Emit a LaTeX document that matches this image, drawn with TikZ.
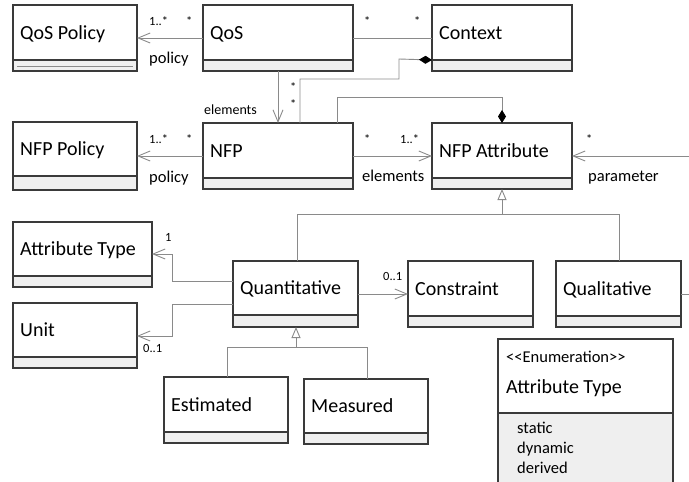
\documentclass[tikz,border=0pt]{standalone}
\usepackage{fontspec}
\setmainfont{Carlito}
\usetikzlibrary{arrows.meta,calc}
\definecolor{boxc}{HTML}{3A3A3A}
\definecolor{linec}{HTML}{8A8A8A}
\definecolor{compc}{HTML}{EFEFEF}
\tikzset{
  boxline/.style={draw=boxc, line width=1.5pt},
  conn/.style={draw=linec, line width=0.9pt},
  assoc/.style={conn, -{Straight Barb[length=12pt,width=10pt,line width=0.9pt]}},
  gen/.style={conn, -{Triangle[open,length=11pt,width=9pt,fill=white,line width=0.9pt]}},
  comp/.style={conn, -{Diamond[length=13pt,width=8pt,fill=black,color=black]}},
  title/.style={font=\fontsize{20}{24}\selectfont, anchor=base west, inner sep=0pt},
  mult/.style={font=\fontsize{12.5}{14}\selectfont, anchor=base west, inner sep=0pt},
  role/.style={font=\fontsize{16.5}{19}\selectfont, anchor=base west, inner sep=0pt},
  enumtxt/.style={font=\fontsize{16.5}{19}\selectfont, anchor=base west, inner sep=0pt},
}
\newcommand\umlclass[7]{%
  \node[draw=none, fill=white, inner sep=0pt, outer sep=0pt,
        minimum width={(#4-#2)*1pt}, minimum height={(#6-#3)*1pt},
        anchor=north west] (#1) at (#2,#3) {};
  \fill[compc] (#2,#5) rectangle (#4,#6);
  \draw[boxline] (#2,#5) -- (#4,#5);
  \draw[boxline] (#2,#3) rectangle (#4,#6);
  \node[title] (#1-name) at ({#2+7}, {(#3+#5)/2+6.5}) {#7};
}
\begin{document}
\begin{tikzpicture}[x=1pt, y=-1pt]
\useasboundingbox (0,0) rectangle (689,482);
\clip (0,0) rectangle (689,482);

% classes
\umlclass{qospol}{13}{5}{137}{60}{71}{QoS Policy}
\draw[linec, line width=0.6pt] (17,66) -- (133,66);
\umlclass{qos}{203}{5}{353}{60}{71}{QoS}
\umlclass{ctx}{432}{5}{572}{60}{71}{Context}
\umlclass{nfppol}{13}{122}{137}{176}{190}{NFP Policy}
\umlclass{nfp}{203}{123}{353}{178}{189}{NFP}
\umlclass{nfpattr}{432}{123}{572}{178}{189}{NFP Attribute}
\umlclass{attrtype}{13}{222}{152}{276}{287}{Attribute Type}
\umlclass{unit}{13}{303}{137}{357}{368}{Unit}
\umlclass{quant}{233}{261}{358}{315}{327}{Quantitative}
\umlclass{constr}{408}{261}{533}{316}{327}{Constraint}
\umlclass{qual}{556}{261}{681}{316}{327}{Qualitative}
\umlclass{est}{164}{377}{288}{432}{443}{Estimated}
\umlclass{meas}{304}{379}{428}{433}{444}{Measured}

% enumeration
\node[draw=none, fill=white, inner sep=0pt, outer sep=0pt,
      minimum width=175pt, minimum height=160pt, anchor=north west] (enum) at (498,339) {};
\fill[compc] (498,413) rectangle (673,500);
\draw[boxline] (498,413) -- (673,413);
\draw[boxline] (498,339) rectangle (673,500);
\node[font=\fontsize{16.5}{19}\selectfont, anchor=base west, inner sep=0pt] (enum-st) at (506,362) {<\kern0pt<Enumeration>\kern0pt>};
\node[title] (enum-name) at (506,393) {Attribute Type};
\node[enumtxt] (lit1) at (517,433) {static};
\node[enumtxt] (lit2) at (517,453) {dynamic};
\node[enumtxt] (lit3) at (517,473) {derived};

% coordinates for free ends
\coordinate (paramend) at (689,156);
\coordinate (qualend) at (689,294);

% QoS -> QoS Policy
\draw[assoc] (qos.west) -- (qospol.east);
\node[mult] at (149,25) {1..*};
\node[mult] at (186,25) {*};
\node[role] at (149,63) {policy};

% QoS -- Context
\draw[conn] (qos.east) -- (ctx.west);
\node[mult] at (364,25) {*};
\node[mult] at (414,25) {*};

% QoS -> NFP
\draw[assoc] ($(qos.south west)+(75,0)$) -- ($(nfp.north west)+(75,0)$);
\node[mult] at (290,91) {*};
\node[mult] at (290,108) {*};
\node[font=\fontsize{14}{16}\selectfont, anchor=base west, inner sep=0pt] at (204,114) {elements};

% NFP composition to Context
\draw[comp] ($(nfp.north west)+(97,0)$) -- ++(0,-44) -- ++(99,0) -- ++(0,-20) -- ($(ctx.north west)+(0,55)$);

% NFP composition to NFP Attribute
\draw[comp] ($(nfp.north west)+(134,0)$) -- ++(0,-26) -- ++(165,0) -- ($(nfpattr.north west)+(70,0)$);

% NFP -> NFP Policy
\draw[assoc] (nfp.west) -- (nfppol.east);
\node[mult] at (149,143) {1..*};
\node[mult] at (186,143) {*};
\node[role] at (149,182) {policy};

% NFP -> NFP Attribute
\draw[assoc] (nfp.east) -- (nfpattr.west);
\node[mult] at (364,143) {*};
\node[mult] at (400,143) {1..*};
\node[role] at (362,181) {elements};

% parameter
\draw[assoc] (paramend) -- (nfpattr.east);
\node[mult] at (586,143) {*};
\node[role] at (588,181) {parameter};

% generalization to NFP Attribute
\draw[conn] ($(quant.north west)+(64,0)$) -- ++(0,-47) -- ++(322,0) -- ($(qual.north west)+(63,0)$);
\draw[gen] (502,214) -- ($(nfpattr.south west)+(70,0)$);

% Quantitative -> Constraint
\draw[assoc] (quant.east) -- (constr.west);
\node[mult] at (383,280) {0..1};

% Quantitative -> Attribute Type
\draw[assoc] ($(quant.north west)+(0,20)$) -- ++(-61,0) -- ++(0,-27) -- ($(attrtype.north east)+(0,32)$);
\node[mult] at (165,241) {1};

% Quantitative -> Unit
\draw[assoc] ($(quant.north west)+(0,43)$) -- ++(-61,0) -- ++(0,32) -- ($(unit.north east)+(0,33)$);
\node[mult] at (143,352) {0..1};

% Qualitative stub
\draw[conn] (qual.east) -- (qualend);

% generalization to Quantitative
\draw[conn] ($(est.north west)+(63,0)$) -- ++(0,-30) -- ++(140,0) -- ($(meas.north west)+(63,0)$);
\draw[gen] (296,347) -- ($(quant.south west)+(63,0)$);
\end{tikzpicture}
\end{document}
